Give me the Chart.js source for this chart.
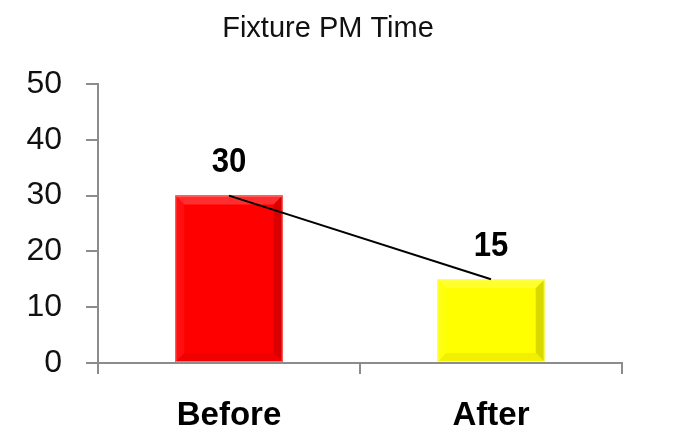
<!DOCTYPE html>
<html>
<head>
<meta charset="utf-8">
<script src="https://cdn.jsdelivr.net/npm/chart.js@4/dist/chart.umd.min.js"></script>
<style>
  html, body { margin: 0; padding: 0; background: #fff; }
  #wrap { width: 675px; height: 445px; }
</style>
</head>
<body>
<div id="wrap"><canvas id="canvas" width="675" height="445"></canvas></div>
<script>
const chartTitle = 'Fixture PM Time';
const categories = ['Before', 'After'];
const pmTime = [30, 15];
const barColors = ['#ff0000', '#ffff00'];
const yTicks = [0, 10, 20, 30, 40, 50];

const axisGray = '#8c8c8c';

// shade helper for the bevel look
function shade(hex, amt) {
    let n = parseInt(hex.slice(1), 16);
    let r = (n >> 16) & 255, g = (n >> 8) & 255, b = n & 255;
    const f = v => Math.max(0, Math.min(255, Math.round(amt > 0 ? v + (255 - v) * amt : v * (1 + amt))));
    return 'rgb(' + f(r) + ',' + f(g) + ',' + f(b) + ')';
}

const bevelPlugin = {
    id: 'bevel',
    afterDatasetDraw(chart, args) {
        if (args.index !== 0) return;
        const ctx = chart.ctx;
        const meta = args.meta;
        meta.data.forEach((bar, i) => {
            const base = barColors[i];
            const l = bar.x - bar.width / 2, r = bar.x + bar.width / 2;
            const t = bar.y, b = bar.base;
            const s = 9;
            ctx.save();
            // top
            ctx.fillStyle = shade(base, 0.18);
            ctx.beginPath();
            ctx.moveTo(l, t); ctx.lineTo(r, t); ctx.lineTo(r - s, t + s); ctx.lineTo(l + s, t + s);
            ctx.closePath(); ctx.fill();
            // right
            ctx.fillStyle = shade(base, -0.15);
            ctx.beginPath();
            ctx.moveTo(r, t); ctx.lineTo(r, b); ctx.lineTo(r - s, b - s); ctx.lineTo(r - s, t + s);
            ctx.closePath(); ctx.fill();
            // bottom
            ctx.fillStyle = shade(base, -0.06);
            ctx.beginPath();
            ctx.moveTo(l, b); ctx.lineTo(r, b); ctx.lineTo(r - s, b - s); ctx.lineTo(l + s, b - s);
            ctx.closePath(); ctx.fill();
            // left
            ctx.fillStyle = shade(base, 0.06);
            ctx.beginPath();
            ctx.moveTo(l, t); ctx.lineTo(l, b); ctx.lineTo(l + s, b - s); ctx.lineTo(l + s, t + s);
            ctx.closePath(); ctx.fill();
            ctx.strokeStyle = shade(base, 0.45);
            ctx.lineWidth = 1;
            ctx.strokeRect(l + 0.5, t + 0.5, r - l - 1, b - t - 1);
            ctx.restore();
        });
    },
    afterDatasetsDraw(chart) {
        // value labels above the bars (slightly condensed bold)
        const ctx = chart.ctx;
        const meta = chart.getDatasetMeta(0);
        ctx.save();
        ctx.font = 'bold 35px "Liberation Sans", Arial, sans-serif';
        ctx.fillStyle = '#000';
        ctx.textAlign = 'center';
        ctx.textBaseline = 'middle';
        meta.data.forEach((bar, i) => {
            ctx.save();
            ctx.translate(bar.x, bar.y - 33);
            ctx.scale(0.89, 1);
            ctx.fillText(String(pmTime[i]), 0, 0);
            ctx.restore();
        });
        ctx.restore();
    }
};

// title sits a bit right of the layout centre in the original, so draw it here
const titlePlugin = {
    id: 'offsetTitle',
    afterDraw(chart) {
        const ctx = chart.ctx;
        ctx.save();
        ctx.font = '29px "Liberation Sans", Arial, sans-serif';
        ctx.fillStyle = '#111';
        ctx.textAlign = 'center';
        ctx.textBaseline = 'middle';
        ctx.fillText(chartTitle, 328, 29);
        ctx.restore();
    }
};

const ctx = document.getElementById('canvas').getContext('2d');
const chart = new Chart(ctx, {
    type: 'bar',
    data: {
        labels: categories,
        datasets: [{
            label: 'PM Time',
            data: pmTime,
            backgroundColor: barColors,
            borderWidth: 0,
            categoryPercentage: 1.0,
            barPercentage: 0.41,
            order: 2
        }, {
            type: 'line',
            label: 'Trend',
            data: pmTime,
            borderColor: '#000',
            borderWidth: 2,
            pointRadius: 0,
            fill: false,
            order: 1
        }]
    },
    options: {
        responsive: false,
        animation: false,
        layout: { padding: { left: 0, right: 53, top: 84, bottom: 0 } },
        plugins: {
            legend: { display: false },
            tooltip: { enabled: false },
            title: { display: false }
        },
        scales: {
            x: {
                grid: {
                    offset: true,
                    drawOnChartArea: false,
                    drawTicks: true,
                    tickLength: 11,
                    color: axisGray,
                    lineWidth: 2
                },
                border: { color: axisGray, width: 2 },
                ticks: {
                    color: '#000',
                    padding: 22,
                    font: { family: '"Liberation Sans", Arial, sans-serif', size: 33, weight: 'bold' }
                },
                afterFit: function (scale) { scale.height = 82; }
            },
            y: {
                min: 0,
                max: 50,
                afterBuildTicks: function (scale) { scale.ticks = yTicks.map(v => ({ value: v })); },
                grid: {
                    drawOnChartArea: false,
                    drawTicks: true,
                    tickLength: 12,
                    color: axisGray,
                    lineWidth: 2
                },
                border: { color: axisGray, width: 2 },
                ticks: {
                    color: '#111',
                    padding: 24,
                    font: { family: '"Liberation Sans", Arial, sans-serif', size: 32 }
                },
                afterFit: function (scale) { scale.width = 98; }
            }
        }
    },
    plugins: [bevelPlugin, titlePlugin]
});
</script>
</body>
</html>
